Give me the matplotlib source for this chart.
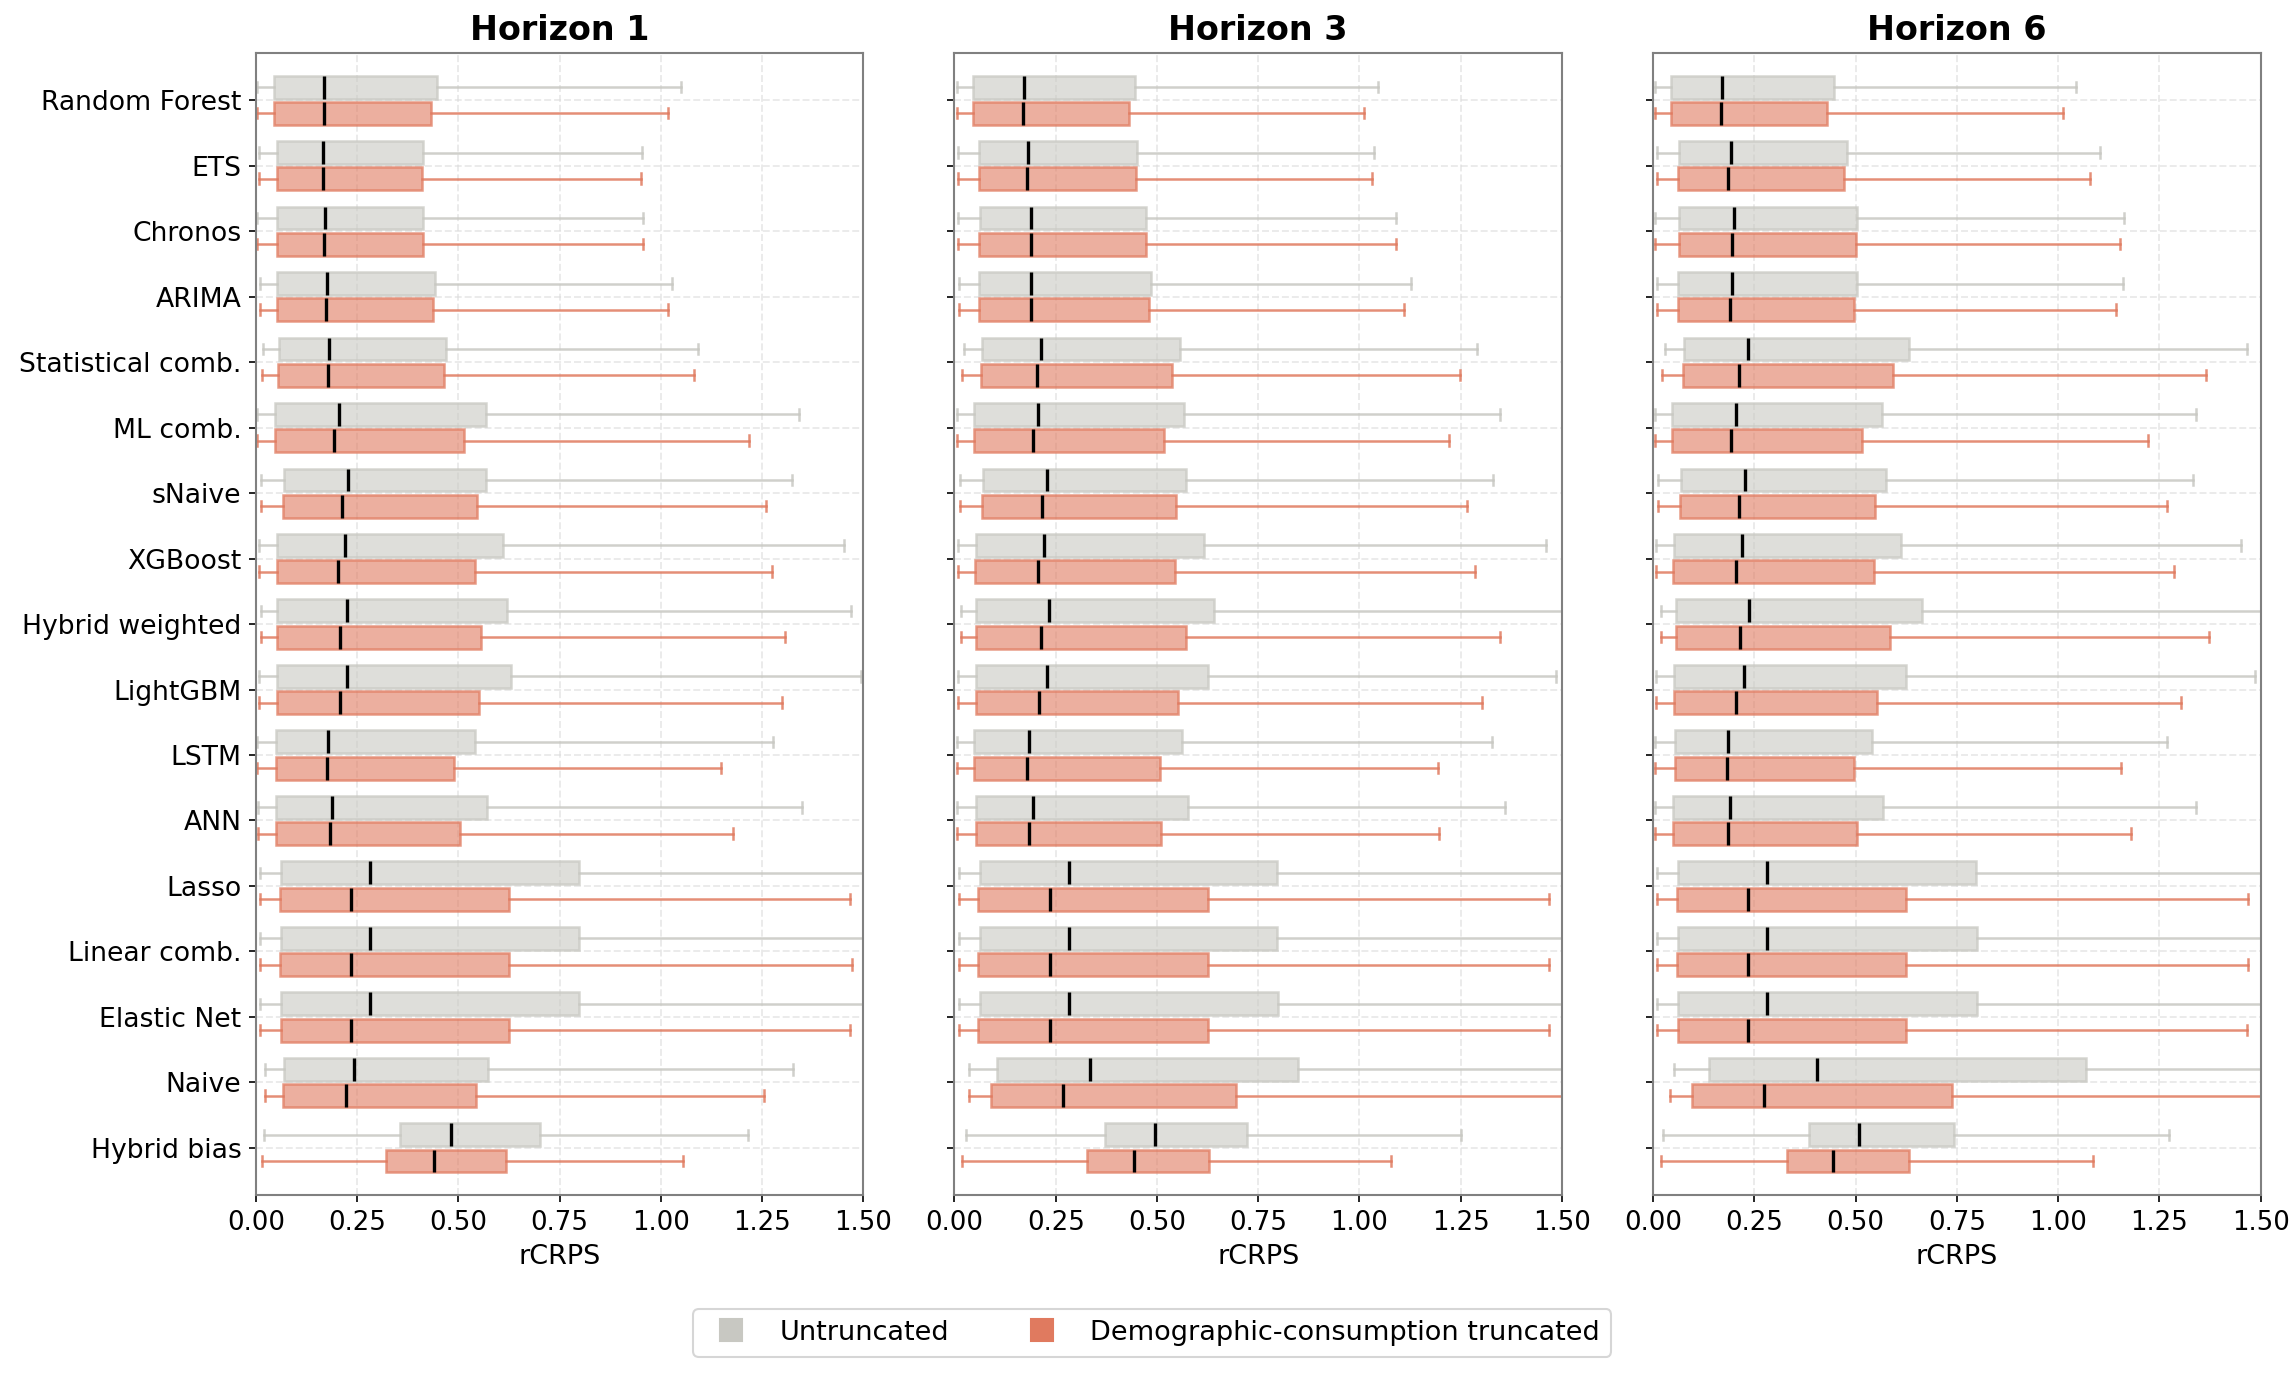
import matplotlib
matplotlib.use("Agg")
import matplotlib.pyplot as plt
from matplotlib.lines import Line2D
from matplotlib.colors import to_rgba
import numpy as np

models = ["Random Forest", "ETS", "Chronos", "ARIMA", "Statistical comb.", "ML comb.",
          "sNaive", "XGBoost", "Hybrid weighted", "LightGBM", "LSTM", "ANN", "Lasso",
          "Linear comb.", "Elastic Net", "Naive", "Hybrid bias"]
horizons = ["Horizon 1", "Horizon 3", "Horizon 6"]
series_labels = ["Untruncated", "Demographic-consumption truncated"]

# ---------------- Horizon 1 ----------------
h1_untr_whislo = [0.003, 0.007, 0.003, 0.010, 0.017, 0.003, 0.012, 0.007, 0.012, 0.007, 0.003, 0.006, 0.011, 0.011, 0.011, 0.022, 0.020]
h1_untr_q1     = [0.045, 0.051, 0.051, 0.051, 0.057, 0.047, 0.069, 0.051, 0.051, 0.051, 0.049, 0.049, 0.062, 0.062, 0.062, 0.069, 0.356]
h1_untr_med    = [0.168, 0.166, 0.171, 0.176, 0.181, 0.205, 0.228, 0.220, 0.225, 0.225, 0.178, 0.187, 0.282, 0.282, 0.282, 0.242, 0.482]
h1_untr_q3     = [0.446, 0.413, 0.413, 0.443, 0.470, 0.567, 0.569, 0.611, 0.619, 0.629, 0.542, 0.570, 0.797, 0.797, 0.797, 0.572, 0.701]
h1_untr_whishi = [1.050, 0.953, 0.955, 1.027, 1.092, 1.342, 1.324, 1.453, 1.470, 1.495, 1.277, 1.348, 1.650, 1.650, 1.650, 1.326, 1.215]

h1_trunc_whislo = [0.003, 0.007, 0.003, 0.010, 0.015, 0.003, 0.012, 0.007, 0.012, 0.007, 0.003, 0.006, 0.011, 0.011, 0.011, 0.022, 0.015]
h1_trunc_q1     = [0.045, 0.051, 0.051, 0.051, 0.054, 0.047, 0.067, 0.051, 0.051, 0.051, 0.049, 0.049, 0.059, 0.059, 0.062, 0.066, 0.322]
h1_trunc_med    = [0.168, 0.166, 0.168, 0.173, 0.178, 0.193, 0.213, 0.202, 0.208, 0.208, 0.176, 0.183, 0.235, 0.235, 0.235, 0.222, 0.440]
h1_trunc_q3     = [0.433, 0.411, 0.413, 0.438, 0.465, 0.515, 0.545, 0.540, 0.555, 0.550, 0.490, 0.503, 0.624, 0.624, 0.624, 0.543, 0.617]
h1_trunc_whishi = [1.017, 0.950, 0.955, 1.017, 1.082, 1.218, 1.260, 1.275, 1.307, 1.300, 1.149, 1.178, 1.467, 1.471, 1.467, 1.255, 1.054]

# ---------------- Horizon 3 ----------------
h3_untr_whislo = [0.005, 0.008, 0.008, 0.010, 0.023, 0.005, 0.013, 0.008, 0.015, 0.008, 0.005, 0.005, 0.010, 0.010, 0.010, 0.037, 0.028]
h3_untr_q1     = [0.045, 0.060, 0.062, 0.060, 0.067, 0.047, 0.070, 0.052, 0.054, 0.052, 0.049, 0.052, 0.062, 0.062, 0.062, 0.105, 0.372]
h3_untr_med    = [0.171, 0.181, 0.190, 0.190, 0.214, 0.205, 0.228, 0.221, 0.233, 0.228, 0.184, 0.193, 0.282, 0.282, 0.282, 0.334, 0.495]
h3_untr_q3     = [0.446, 0.451, 0.473, 0.485, 0.557, 0.567, 0.572, 0.615, 0.641, 0.626, 0.562, 0.577, 0.797, 0.797, 0.799, 0.849, 0.723]
h3_untr_whishi = [1.045, 1.037, 1.091, 1.127, 1.289, 1.347, 1.329, 1.460, 1.650, 1.485, 1.327, 1.359, 1.650, 1.650, 1.650, 1.650, 1.250]

h3_trunc_whislo = [0.005, 0.008, 0.008, 0.010, 0.019, 0.005, 0.013, 0.008, 0.015, 0.008, 0.005, 0.005, 0.010, 0.010, 0.010, 0.035, 0.019]
h3_trunc_q1     = [0.045, 0.060, 0.060, 0.060, 0.065, 0.047, 0.067, 0.050, 0.054, 0.052, 0.049, 0.052, 0.059, 0.059, 0.059, 0.090, 0.328]
h3_trunc_med    = [0.169, 0.179, 0.188, 0.188, 0.203, 0.195, 0.215, 0.205, 0.213, 0.208, 0.179, 0.185, 0.235, 0.235, 0.235, 0.268, 0.443]
h3_trunc_q3     = [0.431, 0.448, 0.473, 0.480, 0.537, 0.517, 0.548, 0.545, 0.572, 0.552, 0.507, 0.510, 0.625, 0.625, 0.626, 0.696, 0.629]
h3_trunc_whishi = [1.012, 1.032, 1.089, 1.111, 1.247, 1.220, 1.265, 1.285, 1.347, 1.302, 1.193, 1.196, 1.469, 1.469, 1.469, 1.650, 1.079]

# ---------------- Horizon 6 ----------------
h6_untr_whislo = [0.005, 0.010, 0.005, 0.010, 0.030, 0.005, 0.012, 0.007, 0.020, 0.007, 0.005, 0.005, 0.010, 0.010, 0.010, 0.051, 0.025]
h6_untr_q1     = [0.044, 0.064, 0.064, 0.061, 0.076, 0.046, 0.069, 0.052, 0.056, 0.051, 0.054, 0.049, 0.061, 0.061, 0.061, 0.138, 0.386]
h6_untr_med    = [0.171, 0.192, 0.200, 0.195, 0.235, 0.205, 0.228, 0.220, 0.237, 0.225, 0.185, 0.190, 0.282, 0.282, 0.282, 0.405, 0.509]
h6_untr_q3     = [0.446, 0.480, 0.504, 0.503, 0.633, 0.564, 0.574, 0.612, 0.663, 0.624, 0.540, 0.567, 0.797, 0.800, 0.800, 1.068, 0.743]
h6_untr_whishi = [1.044, 1.103, 1.163, 1.160, 1.467, 1.341, 1.334, 1.452, 1.650, 1.485, 1.270, 1.341, 1.650, 1.650, 1.650, 1.650, 1.275]

h6_trunc_whislo = [0.005, 0.010, 0.005, 0.010, 0.022, 0.005, 0.012, 0.007, 0.020, 0.007, 0.005, 0.005, 0.010, 0.010, 0.010, 0.041, 0.020]
h6_trunc_q1     = [0.044, 0.061, 0.064, 0.061, 0.074, 0.046, 0.066, 0.049, 0.056, 0.051, 0.054, 0.049, 0.059, 0.059, 0.061, 0.096, 0.331]
h6_trunc_med    = [0.168, 0.185, 0.195, 0.190, 0.212, 0.192, 0.212, 0.205, 0.215, 0.205, 0.183, 0.185, 0.235, 0.235, 0.235, 0.275, 0.443]
h6_trunc_q3     = [0.430, 0.471, 0.500, 0.495, 0.592, 0.517, 0.548, 0.545, 0.584, 0.552, 0.495, 0.503, 0.624, 0.624, 0.624, 0.737, 0.633]
h6_trunc_whishi = [1.012, 1.078, 1.153, 1.143, 1.365, 1.222, 1.270, 1.285, 1.373, 1.304, 1.155, 1.180, 1.470, 1.470, 1.467, 1.650, 1.086]

x_ticks = [0.00, 0.25, 0.50, 0.75, 1.00, 1.25, 1.50]

GRAY = "#C8C8C2"
ORANGE = "#E07A5F"

panels = [
    [(h1_untr_whislo, h1_untr_q1, h1_untr_med, h1_untr_q3, h1_untr_whishi),
     (h1_trunc_whislo, h1_trunc_q1, h1_trunc_med, h1_trunc_q3, h1_trunc_whishi)],
    [(h3_untr_whislo, h3_untr_q1, h3_untr_med, h3_untr_q3, h3_untr_whishi),
     (h3_trunc_whislo, h3_trunc_q1, h3_trunc_med, h3_trunc_q3, h3_trunc_whishi)],
    [(h6_untr_whislo, h6_untr_q1, h6_untr_med, h6_untr_q3, h6_untr_whishi),
     (h6_trunc_whislo, h6_trunc_q1, h6_trunc_med, h6_trunc_q3, h6_trunc_whishi)],
]

n = len(models)
fig, axes = plt.subplots(1, 3, figsize=(15.3, 9.2), dpi=150, sharey=True)
fig.subplots_adjust(left=0.1115, right=0.985, top=0.9616, bottom=0.134, wspace=0.15)

for ax, title, series in zip(axes, horizons, panels):
    ax.set_axisbelow(True)
    ax.grid(True, linestyle="--", color="#dcdcdc", alpha=0.6, linewidth=0.9)
    for s, color, off in zip(series, [GRAY, ORANGE], [-0.2, 0.2]):
        lo, q1, med, q3, hi = s
        stats = [dict(whislo=lo[i], q1=q1[i], med=med[i], q3=q3[i], whishi=hi[i], fliers=[])
                 for i in range(n)]
        ax.bxp(stats, positions=np.arange(n) + off, widths=0.35, orientation="horizontal",
               patch_artist=True, showfliers=False, capwidths=0.16, manage_ticks=False,
               boxprops=dict(facecolor=to_rgba(color, 0.6), edgecolor=to_rgba(color, 0.75), linewidth=1.2),
               whiskerprops=dict(color=to_rgba(color, 0.85), linewidth=1.2),
               capprops=dict(color=to_rgba(color, 0.85), linewidth=1.2),
               medianprops=dict(color="black", linewidth=1.6))
    ax.set_xlim(0, 1.5)
    ax.set_xticks(x_ticks)
    ax.set_xticklabels([f"{t:.2f}" for t in x_ticks], fontsize=12.5)
    ax.set_ylim(n - 1 + 0.72, -0.72)
    ax.set_yticks(np.arange(n))
    ax.set_title(title, fontsize=16, fontweight="bold")
    ax.set_xlabel("rCRPS", fontsize=13)
    for sp in ax.spines.values():
        sp.set_color("#808080")
        sp.set_linewidth(1.0)

axes[0].set_yticklabels(models, fontsize=12.8)

handles = [Line2D([0], [0], marker="s", linestyle="", markersize=11,
                  markerfacecolor=c, markeredgecolor=c, label=l)
           for c, l in zip([GRAY, ORANGE], series_labels)]
fig.legend(handles=handles, loc="lower center", bbox_to_anchor=(0.502, 0.007), ncol=2,
           fontsize=13, columnspacing=2.4)

fig.savefig("out.png", dpi=150)
